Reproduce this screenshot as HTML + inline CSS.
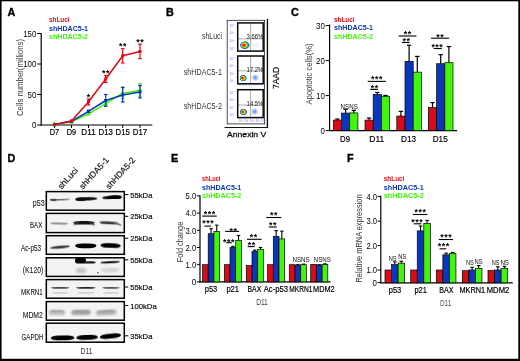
<!DOCTYPE html>
<html><head><meta charset="utf-8"><title>Figure</title>
<style>
html,body{margin:0;padding:0;background:#fff;}
body{width:520px;height:361px;overflow:hidden;font-family:"Liberation Sans",sans-serif;}
svg{display:block;will-change:transform;}
text{font-family:"Liberation Sans",sans-serif;}
</style></head><body>
<svg width="520" height="361" viewBox="0 0 520 361">
<rect x="0" y="0" width="520" height="361" fill="#fff"/>
<text x="7.5" y="15.5" font-size="10.8" fill="#000" text-anchor="start" font-weight="bold" stroke="#000" stroke-width="0.35">A</text>
<text x="166" y="15.5" font-size="10.8" fill="#000" text-anchor="start" font-weight="bold" stroke="#000" stroke-width="0.35">B</text>
<text x="291" y="15.8" font-size="10.8" fill="#000" text-anchor="start" font-weight="bold" stroke="#000" stroke-width="0.35">C</text>
<text x="7.5" y="162" font-size="10.8" fill="#000" text-anchor="start" font-weight="bold" stroke="#000" stroke-width="0.35">D</text>
<text x="171" y="162" font-size="10.8" fill="#000" text-anchor="start" font-weight="bold" stroke="#000" stroke-width="0.35">E</text>
<text x="347" y="162" font-size="10.8" fill="#000" text-anchor="start" font-weight="bold" stroke="#000" stroke-width="0.35">F</text>
<text x="49" y="22" font-size="7.9" fill="#dc0a16" text-anchor="start" font-weight="bold" textLength="20.6" lengthAdjust="spacingAndGlyphs" >shLuci</text>
<text x="49" y="30.5" font-size="7.9" fill="#0a36bc" text-anchor="start" font-weight="bold" textLength="39" lengthAdjust="spacingAndGlyphs" >shHDAC5-1</text>
<text x="49" y="39.3" font-size="7.9" fill="#44f40a" text-anchor="start" font-weight="bold" textLength="39" lengthAdjust="spacingAndGlyphs" >shHDAC5-2</text>
<line x1="41.2" y1="33" x2="41.2" y2="125.5" stroke="#000" stroke-width="1.2" />
<line x1="40.6" y1="125" x2="152.3" y2="125" stroke="#000" stroke-width="1.2" />
<line x1="37.2" y1="33.5" x2="41.2" y2="33.5" stroke="#000" stroke-width="1" />
<text x="36.400000000000006" y="36.7" font-size="9.2" fill="#000" text-anchor="end" font-weight="normal" textLength="13.2" lengthAdjust="spacingAndGlyphs" >150</text>
<line x1="37.2" y1="64" x2="41.2" y2="64" stroke="#000" stroke-width="1" />
<text x="36.400000000000006" y="67.2" font-size="9.2" fill="#000" text-anchor="end" font-weight="normal" textLength="13.2" lengthAdjust="spacingAndGlyphs" >100</text>
<line x1="37.2" y1="94.5" x2="41.2" y2="94.5" stroke="#000" stroke-width="1" />
<text x="36.400000000000006" y="97.7" font-size="9.2" fill="#000" text-anchor="end" font-weight="normal" textLength="8.8" lengthAdjust="spacingAndGlyphs" >50</text>
<line x1="37.2" y1="125" x2="41.2" y2="125" stroke="#000" stroke-width="1" />
<text x="36.400000000000006" y="128.2" font-size="9.2" fill="#000" text-anchor="end" font-weight="normal" textLength="4.4" lengthAdjust="spacingAndGlyphs" >0</text>
<line x1="54.5" y1="125" x2="54.5" y2="128" stroke="#000" stroke-width="1" />
<text x="54.5" y="135.4" font-size="9" fill="#000" text-anchor="middle" font-weight="normal" textLength="9.4" lengthAdjust="spacingAndGlyphs" stroke="#000" stroke-width="0.18">D7</text>
<line x1="71.5" y1="125" x2="71.5" y2="128" stroke="#000" stroke-width="1" />
<text x="71.5" y="135.4" font-size="9" fill="#000" text-anchor="middle" font-weight="normal" textLength="9.4" lengthAdjust="spacingAndGlyphs" stroke="#000" stroke-width="0.18">D9</text>
<line x1="88.5" y1="125" x2="88.5" y2="128" stroke="#000" stroke-width="1" />
<text x="88.5" y="135.4" font-size="9" fill="#000" text-anchor="middle" font-weight="normal" textLength="14.3" lengthAdjust="spacingAndGlyphs" stroke="#000" stroke-width="0.18">D11</text>
<line x1="105.7" y1="125" x2="105.7" y2="128" stroke="#000" stroke-width="1" />
<text x="105.7" y="135.4" font-size="9" fill="#000" text-anchor="middle" font-weight="normal" textLength="14.3" lengthAdjust="spacingAndGlyphs" stroke="#000" stroke-width="0.18">D13</text>
<line x1="122.7" y1="125" x2="122.7" y2="128" stroke="#000" stroke-width="1" />
<text x="122.7" y="135.4" font-size="9" fill="#000" text-anchor="middle" font-weight="normal" textLength="14.3" lengthAdjust="spacingAndGlyphs" stroke="#000" stroke-width="0.18">D15</text>
<line x1="140" y1="125" x2="140" y2="128" stroke="#000" stroke-width="1" />
<text x="140" y="135.4" font-size="9" fill="#000" text-anchor="middle" font-weight="normal" textLength="14.3" lengthAdjust="spacingAndGlyphs" stroke="#000" stroke-width="0.18">D17</text>
<text x="22.5" y="77.5" font-size="8.6" fill="#3a3a3a" text-anchor="middle" font-weight="normal" textLength="77" lengthAdjust="spacingAndGlyphs" transform="rotate(-90 22.5 77.5)" >Cells number(millions)</text>
<polyline points="54.5,124.6 71.5,121.8 88.5,113.8 105.7,103.7 122.7,93.2 140,90.5" fill="none" stroke="#44f40a" stroke-width="1.5" stroke-linejoin="round"/>
<line x1="54.5" y1="123" x2="54.5" y2="126" stroke="#44f40a" stroke-width="1.2" />
<line x1="52.7" y1="123" x2="56.3" y2="123" stroke="#44f40a" stroke-width="1.2" />
<line x1="52.7" y1="126" x2="56.3" y2="126" stroke="#44f40a" stroke-width="1.2" />
<rect x="53.00" y="123.10" width="3" height="3" fill="#44f40a"/>
<line x1="71.5" y1="120.6" x2="71.5" y2="123" stroke="#44f40a" stroke-width="1.2" />
<line x1="69.7" y1="120.6" x2="73.3" y2="120.6" stroke="#44f40a" stroke-width="1.2" />
<line x1="69.7" y1="123" x2="73.3" y2="123" stroke="#44f40a" stroke-width="1.2" />
<rect x="70.00" y="120.30" width="3" height="3" fill="#44f40a"/>
<line x1="88.5" y1="112.8" x2="88.5" y2="114.8" stroke="#44f40a" stroke-width="1.2" />
<line x1="86.7" y1="112.8" x2="90.3" y2="112.8" stroke="#44f40a" stroke-width="1.2" />
<line x1="86.7" y1="114.8" x2="90.3" y2="114.8" stroke="#44f40a" stroke-width="1.2" />
<rect x="87.00" y="112.30" width="3" height="3" fill="#44f40a"/>
<line x1="105.7" y1="100" x2="105.7" y2="106" stroke="#44f40a" stroke-width="1.2" />
<line x1="103.9" y1="100" x2="107.5" y2="100" stroke="#44f40a" stroke-width="1.2" />
<line x1="103.9" y1="106" x2="107.5" y2="106" stroke="#44f40a" stroke-width="1.2" />
<rect x="104.20" y="102.20" width="3" height="3" fill="#44f40a"/>
<line x1="122.7" y1="87" x2="122.7" y2="98.7" stroke="#44f40a" stroke-width="1.2" />
<line x1="120.9" y1="87" x2="124.5" y2="87" stroke="#44f40a" stroke-width="1.2" />
<line x1="120.9" y1="98.7" x2="124.5" y2="98.7" stroke="#44f40a" stroke-width="1.2" />
<rect x="121.20" y="91.70" width="3" height="3" fill="#44f40a"/>
<line x1="140" y1="83.7" x2="140" y2="96.3" stroke="#44f40a" stroke-width="1.2" />
<line x1="138.2" y1="83.7" x2="141.8" y2="83.7" stroke="#44f40a" stroke-width="1.2" />
<line x1="138.2" y1="96.3" x2="141.8" y2="96.3" stroke="#44f40a" stroke-width="1.2" />
<rect x="138.50" y="89.00" width="3" height="3" fill="#44f40a"/>
<polyline points="54.5,124.6 71.5,121.3 88.5,111.3 105.7,100.5 122.7,95 140,92" fill="none" stroke="#0a36bc" stroke-width="1.5" stroke-linejoin="round"/>
<rect x="53.00" y="123.10" width="3" height="3" fill="#0a36bc"/>
<line x1="71.5" y1="120.3" x2="71.5" y2="122.3" stroke="#0a36bc" stroke-width="1.2" />
<line x1="69.7" y1="120.3" x2="73.3" y2="120.3" stroke="#0a36bc" stroke-width="1.2" />
<line x1="69.7" y1="122.3" x2="73.3" y2="122.3" stroke="#0a36bc" stroke-width="1.2" />
<rect x="70.00" y="119.80" width="3" height="3" fill="#0a36bc"/>
<line x1="88.5" y1="110.3" x2="88.5" y2="112.3" stroke="#0a36bc" stroke-width="1.2" />
<line x1="86.7" y1="110.3" x2="90.3" y2="110.3" stroke="#0a36bc" stroke-width="1.2" />
<line x1="86.7" y1="112.3" x2="90.3" y2="112.3" stroke="#0a36bc" stroke-width="1.2" />
<rect x="87.00" y="109.80" width="3" height="3" fill="#0a36bc"/>
<line x1="105.7" y1="94.5" x2="105.7" y2="106.2" stroke="#0a36bc" stroke-width="1.2" />
<line x1="103.9" y1="94.5" x2="107.5" y2="94.5" stroke="#0a36bc" stroke-width="1.2" />
<line x1="103.9" y1="106.2" x2="107.5" y2="106.2" stroke="#0a36bc" stroke-width="1.2" />
<rect x="104.20" y="99.00" width="3" height="3" fill="#0a36bc"/>
<line x1="122.7" y1="87.5" x2="122.7" y2="102" stroke="#0a36bc" stroke-width="1.2" />
<line x1="120.9" y1="87.5" x2="124.5" y2="87.5" stroke="#0a36bc" stroke-width="1.2" />
<line x1="120.9" y1="102" x2="124.5" y2="102" stroke="#0a36bc" stroke-width="1.2" />
<rect x="121.20" y="93.50" width="3" height="3" fill="#0a36bc"/>
<line x1="140" y1="85.5" x2="140" y2="98" stroke="#0a36bc" stroke-width="1.2" />
<line x1="138.2" y1="85.5" x2="141.8" y2="85.5" stroke="#0a36bc" stroke-width="1.2" />
<line x1="138.2" y1="98" x2="141.8" y2="98" stroke="#0a36bc" stroke-width="1.2" />
<rect x="138.50" y="90.50" width="3" height="3" fill="#0a36bc"/>
<polyline points="54.5,124.6 71.5,121 88.5,101.7 105.7,79 122.7,55.7 140,51.5" fill="none" stroke="#dc0a16" stroke-width="1.5" stroke-linejoin="round"/>
<rect x="53.00" y="123.10" width="3" height="3" fill="#dc0a16"/>
<rect x="70.00" y="119.50" width="3" height="3" fill="#dc0a16"/>
<line x1="88.5" y1="99" x2="88.5" y2="105" stroke="#dc0a16" stroke-width="1.2" />
<line x1="86.7" y1="99" x2="90.3" y2="99" stroke="#dc0a16" stroke-width="1.2" />
<line x1="86.7" y1="105" x2="90.3" y2="105" stroke="#dc0a16" stroke-width="1.2" />
<rect x="87.00" y="100.20" width="3" height="3" fill="#dc0a16"/>
<line x1="105.7" y1="75.5" x2="105.7" y2="82.5" stroke="#dc0a16" stroke-width="1.2" />
<line x1="103.9" y1="75.5" x2="107.5" y2="75.5" stroke="#dc0a16" stroke-width="1.2" />
<line x1="103.9" y1="82.5" x2="107.5" y2="82.5" stroke="#dc0a16" stroke-width="1.2" />
<rect x="104.20" y="77.50" width="3" height="3" fill="#dc0a16"/>
<line x1="122.7" y1="48.7" x2="122.7" y2="63" stroke="#dc0a16" stroke-width="1.2" />
<line x1="120.9" y1="48.7" x2="124.5" y2="48.7" stroke="#dc0a16" stroke-width="1.2" />
<line x1="120.9" y1="63" x2="124.5" y2="63" stroke="#dc0a16" stroke-width="1.2" />
<rect x="121.20" y="54.20" width="3" height="3" fill="#dc0a16"/>
<line x1="140" y1="44.2" x2="140" y2="58.7" stroke="#dc0a16" stroke-width="1.2" />
<line x1="138.2" y1="44.2" x2="141.8" y2="44.2" stroke="#dc0a16" stroke-width="1.2" />
<line x1="138.2" y1="58.7" x2="141.8" y2="58.7" stroke="#dc0a16" stroke-width="1.2" />
<rect x="138.50" y="50.00" width="3" height="3" fill="#dc0a16"/>
<text x="88.75" y="99.93" font-size="8.8" fill="#000" text-anchor="middle" font-weight="bold" letter-spacing="0.55">*</text>
<text x="105.95" y="75.63" font-size="8.8" fill="#000" text-anchor="middle" font-weight="bold" letter-spacing="0.55">**</text>
<text x="122.95" y="49.43" font-size="8.8" fill="#000" text-anchor="middle" font-weight="bold" letter-spacing="0.55">**</text>
<text x="140.25" y="44.93" font-size="8.8" fill="#000" text-anchor="middle" font-weight="bold" letter-spacing="0.55">**</text>
<text x="222" y="39.2" font-size="8.6" fill="#333" text-anchor="end" font-weight="normal" textLength="20" lengthAdjust="spacingAndGlyphs" >shLuci</text>
<text x="222" y="74.7" font-size="8.6" fill="#333" text-anchor="end" font-weight="normal" textLength="38.3" lengthAdjust="spacingAndGlyphs" >shHDAC5-1</text>
<text x="222" y="108.5" font-size="8.6" fill="#333" text-anchor="end" font-weight="normal" textLength="38.3" lengthAdjust="spacingAndGlyphs" >shHDAC5-2</text>
<rect x="227.2" y="20.3" width="37.4" height="103.6" fill="none" stroke="#222" stroke-width="0.8"/>
<line x1="267.4" y1="19" x2="267.4" y2="128" stroke="#111" stroke-width="1.4" />
<line x1="224.5" y1="127.5" x2="268.1" y2="127.5" stroke="#111" stroke-width="1.2" />
<text x="227" y="137.3" font-size="8.1" fill="#111" text-anchor="start" font-weight="normal" textLength="39.3" lengthAdjust="spacingAndGlyphs" stroke="#111" stroke-width="0.32">Annexin V</text>
<text x="278.9" y="77.9" font-size="8.6" fill="#111" text-anchor="middle" font-weight="normal" textLength="22.4" lengthAdjust="spacingAndGlyphs" transform="rotate(-90 278.9 77.9)" stroke="#111" stroke-width="0.2">7AAD</text>
<defs>
<radialGradient id="blob" fx="0.33" fy="0.5"><stop offset="0" stop-color="#e81010"/><stop offset="0.3" stop-color="#f03a10"/><stop offset="0.48" stop-color="#f5e020"/><stop offset="0.66" stop-color="#35d040"/><stop offset="0.85" stop-color="#2a55e8"/><stop offset="1" stop-color="#2a55e8" stop-opacity="0"/></radialGradient>
<radialGradient id="lb"><stop offset="0" stop-color="#3d7be8" stop-opacity="0.9"/><stop offset="0.5" stop-color="#7da6f0" stop-opacity="0.6"/><stop offset="1" stop-color="#b5c8f8" stop-opacity="0"/></radialGradient>
<filter id="b03" x="-20%" y="-20%" width="140%" height="140%"><feGaussianBlur stdDeviation="0.35"/></filter>
<filter id="b05" x="-20%" y="-50%" width="140%" height="200%"><feGaussianBlur stdDeviation="0.45"/></filter>
<filter id="b06" x="-20%" y="-50%" width="140%" height="200%"><feGaussianBlur stdDeviation="0.6"/></filter>
<filter id="b10" x="-20%" y="-80%" width="140%" height="260%"><feGaussianBlur stdDeviation="1.0"/></filter>
<filter id="b15" x="-20%" y="-80%" width="140%" height="260%"><feGaussianBlur stdDeviation="1.5"/></filter>
</defs>
<rect x="237.7" y="22.9" width="25.5" height="28.200000000000003" fill="#fff"/>
<line x1="250.6" y1="22.9" x2="250.6" y2="51.1" stroke="#8a8a8a" stroke-width="0.7" />
<line x1="237.7" y1="38.8" x2="263.2" y2="38.8" stroke="#8a8a8a" stroke-width="0.7" />
<ellipse cx="256.5" cy="45.5" rx="4.4" ry="4.2" fill="url(#lb)" opacity="0.18" filter="url(#b03)"/>
<ellipse cx="244.9" cy="45.2" rx="5.0" ry="4.1" fill="url(#blob)" filter="url(#b03)"/>
<rect x="237.7" y="22.9" width="25.5" height="28.200000000000003" fill="none" stroke="#0a0a0a" stroke-width="1.5"/>
<text x="263.4" y="38.8" font-size="6.4" fill="#1a1a1a" text-anchor="end" font-weight="normal" textLength="16.8" lengthAdjust="spacingAndGlyphs" >3.66%</text>
<text x="229.6" y="26.7" font-size="3.1" fill="#5a5ae6" text-anchor="start" font-weight="normal" opacity="0.85">10</text>
<text x="232.9" y="25.3" font-size="2.4" fill="#5a5ae6" text-anchor="start" font-weight="normal" opacity="0.8">n</text>
<text x="229.6" y="34.4" font-size="3.1" fill="#5a5ae6" text-anchor="start" font-weight="normal" opacity="0.85">10</text>
<text x="232.9" y="33.0" font-size="2.4" fill="#5a5ae6" text-anchor="start" font-weight="normal" opacity="0.8">n</text>
<text x="229.6" y="42.0" font-size="3.1" fill="#5a5ae6" text-anchor="start" font-weight="normal" opacity="0.85">10</text>
<text x="232.9" y="40.6" font-size="2.4" fill="#5a5ae6" text-anchor="start" font-weight="normal" opacity="0.8">n</text>
<text x="229.6" y="49.7" font-size="3.1" fill="#5a5ae6" text-anchor="start" font-weight="normal" opacity="0.85">10</text>
<text x="232.9" y="48.3" font-size="2.4" fill="#5a5ae6" text-anchor="start" font-weight="normal" opacity="0.8">n</text>
<rect x="237.7" y="56.0" width="25.5" height="27.799999999999997" fill="#fff"/>
<line x1="250.6" y1="56.0" x2="250.6" y2="83.8" stroke="#8a8a8a" stroke-width="0.7" />
<line x1="237.7" y1="70.8" x2="263.2" y2="70.8" stroke="#8a8a8a" stroke-width="0.7" />
<ellipse cx="255.2" cy="77.6" rx="4.4" ry="4.2" fill="url(#lb)" opacity="1" filter="url(#b03)"/>
<ellipse cx="243.3" cy="78.1" rx="3.7" ry="3.5" fill="url(#blob)" filter="url(#b03)"/>
<rect x="237.7" y="56.0" width="25.5" height="27.799999999999997" fill="none" stroke="#0a0a0a" stroke-width="1.5"/>
<text x="263.4" y="72.39999999999999" font-size="6.4" fill="#1a1a1a" text-anchor="end" font-weight="normal" textLength="16.8" lengthAdjust="spacingAndGlyphs" >17.2%</text>
<text x="229.6" y="59.8" font-size="3.1" fill="#5a5ae6" text-anchor="start" font-weight="normal" opacity="0.85">10</text>
<text x="232.9" y="58.4" font-size="2.4" fill="#5a5ae6" text-anchor="start" font-weight="normal" opacity="0.8">n</text>
<text x="229.6" y="67.3" font-size="3.1" fill="#5a5ae6" text-anchor="start" font-weight="normal" opacity="0.85">10</text>
<text x="232.9" y="65.9" font-size="2.4" fill="#5a5ae6" text-anchor="start" font-weight="normal" opacity="0.8">n</text>
<text x="229.6" y="74.9" font-size="3.1" fill="#5a5ae6" text-anchor="start" font-weight="normal" opacity="0.85">10</text>
<text x="232.9" y="73.5" font-size="2.4" fill="#5a5ae6" text-anchor="start" font-weight="normal" opacity="0.8">n</text>
<text x="229.6" y="82.4" font-size="3.1" fill="#5a5ae6" text-anchor="start" font-weight="normal" opacity="0.85">10</text>
<text x="232.9" y="81.0" font-size="2.4" fill="#5a5ae6" text-anchor="start" font-weight="normal" opacity="0.8">n</text>
<rect x="237.7" y="89.7" width="25.5" height="27.89999999999999" fill="#fff"/>
<line x1="250.6" y1="89.7" x2="250.6" y2="117.6" stroke="#8a8a8a" stroke-width="0.7" />
<line x1="237.7" y1="105.1" x2="263.2" y2="105.1" stroke="#8a8a8a" stroke-width="0.7" />
<ellipse cx="254.6" cy="111.6" rx="4.4" ry="4.2" fill="url(#lb)" opacity="1" filter="url(#b03)"/>
<ellipse cx="243.5" cy="111.9" rx="3.7" ry="3.5" fill="url(#blob)" filter="url(#b03)"/>
<rect x="237.7" y="89.7" width="25.5" height="27.89999999999999" fill="none" stroke="#0a0a0a" stroke-width="1.5"/>
<text x="263.4" y="105.69999999999999" font-size="6.4" fill="#1a1a1a" text-anchor="end" font-weight="normal" textLength="16.8" lengthAdjust="spacingAndGlyphs" >14.5%</text>
<text x="229.6" y="93.5" font-size="3.1" fill="#5a5ae6" text-anchor="start" font-weight="normal" opacity="0.85">10</text>
<text x="232.9" y="92.1" font-size="2.4" fill="#5a5ae6" text-anchor="start" font-weight="normal" opacity="0.8">n</text>
<text x="229.6" y="101.1" font-size="3.1" fill="#5a5ae6" text-anchor="start" font-weight="normal" opacity="0.85">10</text>
<text x="232.9" y="99.7" font-size="2.4" fill="#5a5ae6" text-anchor="start" font-weight="normal" opacity="0.8">n</text>
<text x="229.6" y="108.6" font-size="3.1" fill="#5a5ae6" text-anchor="start" font-weight="normal" opacity="0.85">10</text>
<text x="232.9" y="107.2" font-size="2.4" fill="#5a5ae6" text-anchor="start" font-weight="normal" opacity="0.8">n</text>
<text x="229.6" y="116.2" font-size="3.1" fill="#5a5ae6" text-anchor="start" font-weight="normal" opacity="0.85">10</text>
<text x="232.9" y="114.8" font-size="2.4" fill="#5a5ae6" text-anchor="start" font-weight="normal" opacity="0.8">n</text>
<rect x="239.0" y="84.2" width="1.6" height="1.0" fill="#3a4ee0" opacity="0.8"/>
<rect x="242.0" y="84.2" width="1.6" height="1.0" fill="#3a4ee0" opacity="0.8"/>
<rect x="245.0" y="84.2" width="1.6" height="1.0" fill="#3a4ee0" opacity="0.8"/>
<rect x="248.0" y="84.2" width="1.6" height="1.0" fill="#3a4ee0" opacity="0.8"/>
<rect x="251.0" y="84.2" width="1.6" height="1.0" fill="#3a4ee0" opacity="0.8"/>
<rect x="254.0" y="84.2" width="1.6" height="1.0" fill="#3a4ee0" opacity="0.8"/>
<rect x="257.0" y="84.2" width="1.6" height="1.0" fill="#3a4ee0" opacity="0.8"/>
<rect x="260.0" y="84.2" width="1.6" height="1.0" fill="#3a4ee0" opacity="0.8"/>
<text x="238.6" y="122.3" font-size="3.1" fill="#5a5ae6" text-anchor="start" font-weight="normal" opacity="0.85">10</text>
<text x="241.9" y="121" font-size="2.4" fill="#5a5ae6" text-anchor="start" font-weight="normal" opacity="0.8">n</text>
<text x="244.2" y="122.3" font-size="3.1" fill="#5a5ae6" text-anchor="start" font-weight="normal" opacity="0.85">10</text>
<text x="247.5" y="121" font-size="2.4" fill="#5a5ae6" text-anchor="start" font-weight="normal" opacity="0.8">n</text>
<text x="249.8" y="122.3" font-size="3.1" fill="#5a5ae6" text-anchor="start" font-weight="normal" opacity="0.85">10</text>
<text x="253.1" y="121" font-size="2.4" fill="#5a5ae6" text-anchor="start" font-weight="normal" opacity="0.8">n</text>
<text x="255.4" y="122.3" font-size="3.1" fill="#5a5ae6" text-anchor="start" font-weight="normal" opacity="0.85">10</text>
<text x="258.7" y="121" font-size="2.4" fill="#5a5ae6" text-anchor="start" font-weight="normal" opacity="0.8">n</text>
<text x="261.0" y="122.3" font-size="3.1" fill="#5a5ae6" text-anchor="start" font-weight="normal" opacity="0.85">10</text>
<text x="264.3" y="121" font-size="2.4" fill="#5a5ae6" text-anchor="start" font-weight="normal" opacity="0.8">n</text>
<text x="334" y="21.8" font-size="7.9" fill="#dc0a16" text-anchor="start" font-weight="bold" textLength="20.6" lengthAdjust="spacingAndGlyphs" >shLuci</text>
<text x="334" y="30" font-size="7.9" fill="#0a36bc" text-anchor="start" font-weight="bold" textLength="39" lengthAdjust="spacingAndGlyphs" >shHDAC5-1</text>
<text x="334" y="38.8" font-size="7.9" fill="#44f40a" text-anchor="start" font-weight="bold" textLength="39" lengthAdjust="spacingAndGlyphs" >shHDAC5-2</text>
<line x1="329.6" y1="24.5" x2="329.6" y2="131.1" stroke="#000" stroke-width="1.2" />
<line x1="329.0" y1="130.6" x2="457" y2="130.6" stroke="#000" stroke-width="1.2" />
<line x1="325.6" y1="130.6" x2="329.6" y2="130.6" stroke="#000" stroke-width="1" />
<text x="324.8" y="133.79999999999998" font-size="9.2" fill="#000" text-anchor="end" font-weight="normal" textLength="4.4" lengthAdjust="spacingAndGlyphs" >0</text>
<line x1="325.6" y1="95.6" x2="329.6" y2="95.6" stroke="#000" stroke-width="1" />
<text x="324.8" y="98.8" font-size="9.2" fill="#000" text-anchor="end" font-weight="normal" textLength="8.8" lengthAdjust="spacingAndGlyphs" >10</text>
<line x1="325.6" y1="60.599999999999994" x2="329.6" y2="60.599999999999994" stroke="#000" stroke-width="1" />
<text x="324.8" y="63.8" font-size="9.2" fill="#000" text-anchor="end" font-weight="normal" textLength="8.8" lengthAdjust="spacingAndGlyphs" >20</text>
<line x1="325.6" y1="25.599999999999994" x2="329.6" y2="25.599999999999994" stroke="#000" stroke-width="1" />
<text x="324.8" y="28.799999999999994" font-size="9.2" fill="#000" text-anchor="end" font-weight="normal" textLength="8.8" lengthAdjust="spacingAndGlyphs" >30</text>
<text x="312" y="74" font-size="8.6" fill="#3a3a3a" text-anchor="middle" font-weight="normal" textLength="61" lengthAdjust="spacingAndGlyphs" transform="rotate(-90 312 74)" >Apoptotic cells(%)</text>
<line x1="337.40000000000003" y1="119.05" x2="337.40000000000003" y2="120.1" stroke="#000" stroke-width="1.2" />
<line x1="335.20000000000005" y1="119.05" x2="339.6" y2="119.05" stroke="#000" stroke-width="1.2" />
<rect x="333.3" y="120.1" width="8.2" height="10.5" fill="#dc0a16" stroke="#000" stroke-width="0.7"/>
<line x1="345.6" y1="109.25" x2="345.6" y2="113.1" stroke="#000" stroke-width="1.2" />
<line x1="343.40000000000003" y1="109.25" x2="347.8" y2="109.25" stroke="#000" stroke-width="1.2" />
<rect x="341.5" y="113.1" width="8.2" height="17.5" fill="#0a36bc" stroke="#000" stroke-width="0.7"/>
<line x1="353.8" y1="110.3" x2="353.8" y2="112.925" stroke="#000" stroke-width="1.2" />
<line x1="351.6" y1="110.3" x2="356.0" y2="110.3" stroke="#000" stroke-width="1.2" />
<rect x="349.7" y="112.925" width="8.2" height="17.674999999999997" fill="#44f40a" stroke="#000" stroke-width="0.7"/>
<text x="345.1" y="141.9" font-size="9" fill="#000" text-anchor="middle" font-weight="normal" textLength="10" lengthAdjust="spacingAndGlyphs" stroke="#000" stroke-width="0.18">D9</text>
<line x1="369.1" y1="118.0" x2="369.1" y2="120.1" stroke="#000" stroke-width="1.2" />
<line x1="366.90000000000003" y1="118.0" x2="371.3" y2="118.0" stroke="#000" stroke-width="1.2" />
<rect x="365.0" y="120.1" width="8.2" height="10.5" fill="#dc0a16" stroke="#000" stroke-width="0.7"/>
<line x1="377.3" y1="92.44999999999999" x2="377.3" y2="94.54999999999998" stroke="#000" stroke-width="1.2" />
<line x1="375.1" y1="92.44999999999999" x2="379.5" y2="92.44999999999999" stroke="#000" stroke-width="1.2" />
<rect x="373.2" y="94.54999999999998" width="8.2" height="36.05000000000001" fill="#0a36bc" stroke="#000" stroke-width="0.7"/>
<line x1="385.5" y1="95.42499999999998" x2="385.5" y2="96.29999999999998" stroke="#000" stroke-width="1.2" />
<line x1="383.3" y1="95.42499999999998" x2="387.7" y2="95.42499999999998" stroke="#000" stroke-width="1.2" />
<rect x="381.4" y="96.29999999999998" width="8.2" height="34.30000000000001" fill="#44f40a" stroke="#000" stroke-width="0.7"/>
<text x="376.8" y="141.9" font-size="9" fill="#000" text-anchor="middle" font-weight="normal" textLength="15" lengthAdjust="spacingAndGlyphs" stroke="#000" stroke-width="0.18">D11</text>
<line x1="400.90000000000003" y1="111.35" x2="400.90000000000003" y2="116.07499999999999" stroke="#000" stroke-width="1.2" />
<line x1="398.70000000000005" y1="111.35" x2="403.1" y2="111.35" stroke="#000" stroke-width="1.2" />
<rect x="396.8" y="116.07499999999999" width="8.2" height="14.525000000000006" fill="#dc0a16" stroke="#000" stroke-width="0.7"/>
<line x1="409.1" y1="45.2" x2="409.1" y2="61.3" stroke="#000" stroke-width="1.2" />
<line x1="406.90000000000003" y1="45.2" x2="411.3" y2="45.2" stroke="#000" stroke-width="1.2" />
<rect x="405.0" y="61.3" width="8.2" height="69.3" fill="#0a36bc" stroke="#000" stroke-width="0.7"/>
<line x1="417.3" y1="56.39999999999999" x2="417.3" y2="72.15" stroke="#000" stroke-width="1.2" />
<line x1="415.1" y1="56.39999999999999" x2="419.5" y2="56.39999999999999" stroke="#000" stroke-width="1.2" />
<rect x="413.2" y="72.15" width="8.2" height="58.44999999999999" fill="#44f40a" stroke="#000" stroke-width="0.7"/>
<text x="408.6" y="141.9" font-size="9" fill="#000" text-anchor="middle" font-weight="normal" textLength="15" lengthAdjust="spacingAndGlyphs" stroke="#000" stroke-width="0.18">D13</text>
<line x1="432.5" y1="102.6" x2="432.5" y2="107.5" stroke="#000" stroke-width="1.2" />
<line x1="430.3" y1="102.6" x2="434.7" y2="102.6" stroke="#000" stroke-width="1.2" />
<rect x="428.4" y="107.5" width="8.2" height="23.099999999999994" fill="#dc0a16" stroke="#000" stroke-width="0.7"/>
<line x1="440.7" y1="54.64999999999999" x2="440.7" y2="63.749999999999986" stroke="#000" stroke-width="1.2" />
<line x1="438.5" y1="54.64999999999999" x2="442.9" y2="54.64999999999999" stroke="#000" stroke-width="1.2" />
<rect x="436.59999999999997" y="63.749999999999986" width="8.2" height="66.85000000000001" fill="#0a36bc" stroke="#000" stroke-width="0.7"/>
<line x1="448.9" y1="46.599999999999994" x2="448.9" y2="62.7" stroke="#000" stroke-width="1.2" />
<line x1="446.7" y1="46.599999999999994" x2="451.09999999999997" y2="46.599999999999994" stroke="#000" stroke-width="1.2" />
<rect x="444.79999999999995" y="62.7" width="8.2" height="67.89999999999999" fill="#44f40a" stroke="#000" stroke-width="0.7"/>
<text x="440.2" y="141.9" font-size="9" fill="#000" text-anchor="middle" font-weight="normal" textLength="15" lengthAdjust="spacingAndGlyphs" stroke="#000" stroke-width="0.18">D15</text>
<text x="340.5" y="108.8" font-size="6.3" fill="#111" text-anchor="start" font-weight="normal" textLength="8.5" lengthAdjust="spacingAndGlyphs" >NS</text>
<text x="349.3" y="108.8" font-size="6.3" fill="#111" text-anchor="start" font-weight="normal" textLength="8.5" lengthAdjust="spacingAndGlyphs" >NS</text>
<line x1="367.7" y1="81.4" x2="385.8" y2="81.4" stroke="#000" stroke-width="1.1" />
<text x="376.95" y="82.23" font-size="8.8" fill="#000" text-anchor="middle" font-weight="bold" letter-spacing="0.55">***</text>
<line x1="370.2" y1="89.4" x2="377.9" y2="89.4" stroke="#000" stroke-width="1.1" />
<text x="374.65" y="91.23" font-size="8.8" fill="#000" text-anchor="middle" font-weight="bold" letter-spacing="0.55">**</text>
<line x1="398.6" y1="36.0" x2="416.4" y2="36.0" stroke="#000" stroke-width="1.1" />
<text x="407.65" y="36.83" font-size="8.8" fill="#000" text-anchor="middle" font-weight="bold" letter-spacing="0.55">**</text>
<line x1="402.1" y1="42.5" x2="409.5" y2="42.5" stroke="#000" stroke-width="1.1" />
<text x="406.45" y="44.23" font-size="8.8" fill="#000" text-anchor="middle" font-weight="bold" letter-spacing="0.55">**</text>
<line x1="431" y1="38.2" x2="449.2" y2="38.2" stroke="#000" stroke-width="1.1" />
<text x="440.35" y="39.53" font-size="8.8" fill="#000" text-anchor="middle" font-weight="bold" letter-spacing="0.55">**</text>
<line x1="433.7" y1="48.55" x2="441.8" y2="48.55" stroke="#000" stroke-width="1.1" />
<text x="437.35" y="49.93" font-size="8.8" fill="#000" text-anchor="middle" font-weight="bold" letter-spacing="0.55">***</text>
<text x="44.6" y="205.5" font-size="9" fill="#222" text-anchor="end" font-weight="normal" textLength="11.8" lengthAdjust="spacingAndGlyphs" stroke="#222" stroke-width="0.12">p53</text>
<text x="42.2" y="227.8" font-size="9" fill="#222" text-anchor="end" font-weight="normal" textLength="12.2" lengthAdjust="spacingAndGlyphs" stroke="#222" stroke-width="0.12">BAX</text>
<text x="41.2" y="250.5" font-size="9" fill="#222" text-anchor="end" font-weight="normal" textLength="20.3" lengthAdjust="spacingAndGlyphs" stroke="#222" stroke-width="0.12">Ac-p53</text>
<text x="43.4" y="273" font-size="9" fill="#222" text-anchor="end" font-weight="normal" textLength="20.7" lengthAdjust="spacingAndGlyphs" stroke="#222" stroke-width="0.12">(K120)</text>
<text x="42.8" y="295.4" font-size="9" fill="#222" text-anchor="end" font-weight="normal" textLength="21.7" lengthAdjust="spacingAndGlyphs" stroke="#222" stroke-width="0.12">MKRN1</text>
<text x="42.8" y="317.8" font-size="9" fill="#222" text-anchor="end" font-weight="normal" textLength="20" lengthAdjust="spacingAndGlyphs" stroke="#222" stroke-width="0.12">MDM2</text>
<text x="43.4" y="340.3" font-size="9" fill="#222" text-anchor="end" font-weight="normal" textLength="21.9" lengthAdjust="spacingAndGlyphs" stroke="#222" stroke-width="0.12">GAPDH</text>
<rect x="46.3" y="191.6" width="78.0" height="18.6" fill="#f3f3f3"/>
<rect x="46.3" y="213.4" width="78.0" height="19.2" fill="#f3f3f3"/>
<rect x="46.3" y="235.7" width="78.0" height="18.6" fill="#f3f3f3"/>
<rect x="46.3" y="257.8" width="78.0" height="18.6" fill="#f3f3f3"/>
<rect x="46.3" y="279.6" width="78.0" height="18.6" fill="#f3f3f3"/>
<rect x="46.3" y="301.6" width="78.0" height="18.6" fill="#f3f3f3"/>
<rect x="46.3" y="323.2" width="78.0" height="19.0" fill="#f3f3f3"/>
<rect x="49.8" y="199.0" width="20.40" height="1.60" rx="7.34" ry="0.80" fill="#6a6a6a" opacity="1" filter="url(#b05)" transform="rotate(-3 60.0 199.8)"/>
<rect x="49.8" y="198.8" width="7.20" height="2.10" rx="2.59" ry="1.05" fill="#333" opacity="0.8" filter="url(#b05)" transform="rotate(0 53.4 199.9)"/>
<rect x="75.3" y="197.3" width="22.00" height="3.20" rx="7.92" ry="1.60" fill="#0a0a0a" opacity="1" filter="url(#b06)" transform="rotate(-2 86.3 198.9)"/>
<rect x="75.5" y="197.4" width="10.50" height="3.50" rx="3.78" ry="1.75" fill="#0a0a0a" opacity="0.9" filter="url(#b06)" transform="rotate(0 80.8 199.2)"/>
<rect x="102.2" y="195.8" width="19.60" height="3.20" rx="7.06" ry="1.60" fill="#000" opacity="1" filter="url(#b06)" transform="rotate(-3 112.0 197.4)"/>
<rect x="109" y="195.3" width="12.60" height="3.70" rx="4.54" ry="1.85" fill="#000" opacity="0.9" filter="url(#b06)" transform="rotate(0 115.3 197.2)"/>
<rect x="50" y="222.6" width="18.20" height="1.80" rx="6.55" ry="0.90" fill="#909090" opacity="1" filter="url(#b05)" transform="rotate(2 59.1 223.5)"/>
<rect x="73.3" y="221.0" width="21.10" height="3.60" rx="7.60" ry="1.80" fill="#161616" opacity="1" filter="url(#b06)" transform="rotate(0 83.8 222.8)"/>
<rect x="73.3" y="222.6" width="5.70" height="2.40" rx="2.05" ry="1.20" fill="#444" opacity="0.7" filter="url(#b06)" transform="rotate(-18 76.2 223.8)"/>
<rect x="89.5" y="222.6" width="5.50" height="2.60" rx="1.98" ry="1.30" fill="#444" opacity="0.7" filter="url(#b06)" transform="rotate(18 92.2 223.9)"/>
<rect x="99.5" y="221.4" width="18.50" height="2.90" rx="6.66" ry="1.45" fill="#3a3a3a" opacity="1" filter="url(#b05)" transform="rotate(3 108.8 222.9)"/>
<rect x="114" y="223" width="7.80" height="2.00" rx="2.81" ry="1.00" fill="#777" opacity="0.9" filter="url(#b05)" transform="rotate(22 117.9 224.0)"/>
<rect x="50" y="245.8" width="20.20" height="2.60" rx="7.27" ry="1.30" fill="#3a3a3a" opacity="1" filter="url(#b06)" transform="rotate(-5 60.1 247.1)"/>
<rect x="75.2" y="243.4" width="21.20" height="4.90" rx="7.00" ry="2.45" fill="#000" opacity="1" filter="url(#b06)" transform="rotate(0 85.8 245.9)"/>
<rect x="100.3" y="243.3" width="20.50" height="4.50" rx="6.77" ry="2.25" fill="#000" opacity="1" filter="url(#b06)" transform="rotate(2 110.5 245.6)"/>
<rect x="75" y="257.8" width="11.00" height="5.80" rx="3.30" ry="2.90" fill="#050505" opacity="1" filter="url(#b05)" transform="rotate(0 80.5 260.7)"/>
<rect x="83" y="261.3" width="12.60" height="2.30" rx="4.54" ry="1.15" fill="#1a1a1a" opacity="1" filter="url(#b05)" transform="rotate(0 89.3 262.5)"/>
<rect x="100.5" y="261.2" width="19.30" height="2.00" rx="6.95" ry="1.00" fill="#111" opacity="1" filter="url(#b05)" transform="rotate(-3 110.2 262.2)"/>
<rect x="76" y="268" width="10.50" height="5.20" rx="3.78" ry="2.60" fill="#bdbdbd" opacity="0.9" filter="url(#b10)" transform="rotate(0 81.2 270.6)"/>
<rect x="101" y="268" width="18.70" height="4.20" rx="6.73" ry="2.10" fill="#cfcfcf" opacity="0.9" filter="url(#b10)" transform="rotate(0 110.3 270.1)"/>
<circle cx="97.9" cy="272.8" r="0.7" fill="#222"/>
<rect x="50.8" y="286.9" width="18.60" height="1.80" rx="6.70" ry="0.90" fill="#4a4a4a" opacity="1" filter="url(#b05)" transform="rotate(0 60.1 287.8)"/>
<rect x="51.8" y="292" width="16.60" height="1.80" rx="5.98" ry="0.90" fill="#cccccc" opacity="0.9" filter="url(#b06)" transform="rotate(0 60.1 292.9)"/>
<rect x="76" y="286.9" width="19.60" height="1.80" rx="7.06" ry="0.90" fill="#262626" opacity="1" filter="url(#b05)" transform="rotate(0 85.8 287.8)"/>
<rect x="77" y="292" width="17.60" height="1.80" rx="6.34" ry="0.90" fill="#cccccc" opacity="0.9" filter="url(#b06)" transform="rotate(0 85.8 292.9)"/>
<rect x="102.2" y="286.9" width="17.60" height="1.80" rx="6.34" ry="0.90" fill="#555" opacity="1" filter="url(#b05)" transform="rotate(0 111.0 287.8)"/>
<rect x="103.2" y="292" width="15.60" height="1.80" rx="5.62" ry="0.90" fill="#cccccc" opacity="0.9" filter="url(#b06)" transform="rotate(0 111.0 292.9)"/>
<rect x="48.8" y="310" width="16.70" height="5.00" rx="3.34" ry="2.50" fill="#b9b9b9" opacity="1" filter="url(#b10)" transform="rotate(1 57.1 312.5)"/>
<rect x="49.8" y="310.2" width="14.70" height="1.60" rx="4.41" ry="0.80" fill="#8c8c8c" opacity="0.55" filter="url(#b06)" transform="rotate(1 57.1 311.0)"/>
<rect x="71.2" y="310" width="19.60" height="5.00" rx="3.92" ry="2.50" fill="#a2a2a2" opacity="1" filter="url(#b10)" transform="rotate(-1 81.0 312.5)"/>
<rect x="72.2" y="310.2" width="17.60" height="1.60" rx="5.28" ry="0.80" fill="#8c8c8c" opacity="0.55" filter="url(#b06)" transform="rotate(-1 81.0 311.0)"/>
<rect x="96" y="310" width="20.80" height="5.00" rx="4.16" ry="2.50" fill="#adadad" opacity="1" filter="url(#b10)" transform="rotate(-3 106.4 312.5)"/>
<rect x="97" y="310.2" width="18.80" height="1.60" rx="5.64" ry="0.80" fill="#8c8c8c" opacity="0.55" filter="url(#b06)" transform="rotate(-3 106.4 311.0)"/>
<rect x="50.8" y="335.6" width="23.60" height="4.60" rx="7.08" ry="2.30" fill="#000" opacity="1" filter="url(#b05)" transform="rotate(-1 62.6 337.9)"/>
<rect x="76.4" y="335.0" width="21.40" height="4.80" rx="6.42" ry="2.40" fill="#000" opacity="1" filter="url(#b05)" transform="rotate(-2 87.1 337.4)"/>
<rect x="99.8" y="333.8" width="21.20" height="4.60" rx="6.36" ry="2.30" fill="#000" opacity="1" filter="url(#b05)" transform="rotate(-6 110.4 336.1)"/>
<rect x="46.3" y="191.6" width="78.0" height="18.6" fill="none" stroke="#000" stroke-width="1.5"/>
<rect x="46.3" y="213.4" width="78.0" height="19.2" fill="none" stroke="#000" stroke-width="1.5"/>
<rect x="46.3" y="235.7" width="78.0" height="18.6" fill="none" stroke="#000" stroke-width="1.5"/>
<rect x="46.3" y="257.8" width="78.0" height="18.6" fill="none" stroke="#000" stroke-width="1.5"/>
<rect x="46.3" y="279.6" width="78.0" height="18.6" fill="none" stroke="#000" stroke-width="1.5"/>
<rect x="46.3" y="301.6" width="78.0" height="18.6" fill="none" stroke="#000" stroke-width="1.5"/>
<rect x="46.3" y="323.2" width="78.0" height="19.0" fill="none" stroke="#000" stroke-width="1.5"/>
<line x1="124.3" y1="194.6" x2="128.3" y2="194.6" stroke="#000" stroke-width="1" />
<text x="130.2" y="197.5" font-size="7.9" fill="#111" text-anchor="start" font-weight="normal" textLength="22.3" lengthAdjust="spacingAndGlyphs" stroke="#111" stroke-width="0.2">55kDa</text>
<line x1="124.3" y1="216.3" x2="128.3" y2="216.3" stroke="#000" stroke-width="1" />
<text x="130.2" y="219.20000000000002" font-size="7.9" fill="#111" text-anchor="start" font-weight="normal" textLength="22.3" lengthAdjust="spacingAndGlyphs" stroke="#111" stroke-width="0.2">25kDa</text>
<line x1="124.3" y1="238.3" x2="128.3" y2="238.3" stroke="#000" stroke-width="1" />
<text x="130.2" y="241.20000000000002" font-size="7.9" fill="#111" text-anchor="start" font-weight="normal" textLength="22.3" lengthAdjust="spacingAndGlyphs" stroke="#111" stroke-width="0.2">25kDa</text>
<line x1="124.3" y1="259.8" x2="128.3" y2="259.8" stroke="#000" stroke-width="1" />
<text x="130.2" y="262.7" font-size="7.9" fill="#111" text-anchor="start" font-weight="normal" textLength="22.3" lengthAdjust="spacingAndGlyphs" stroke="#111" stroke-width="0.2">55kDa</text>
<line x1="124.3" y1="287" x2="128.3" y2="287" stroke="#000" stroke-width="1" />
<text x="130.2" y="289.9" font-size="7.9" fill="#111" text-anchor="start" font-weight="normal" textLength="22.3" lengthAdjust="spacingAndGlyphs" stroke="#111" stroke-width="0.2">55kDa</text>
<line x1="124.3" y1="305.6" x2="128.3" y2="305.6" stroke="#000" stroke-width="1" />
<text x="130.2" y="308.5" font-size="7.9" fill="#111" text-anchor="start" font-weight="normal" textLength="26.5" lengthAdjust="spacingAndGlyphs" stroke="#111" stroke-width="0.2">100kDa</text>
<line x1="124.3" y1="335.8" x2="128.3" y2="335.8" stroke="#000" stroke-width="1" />
<text x="130.2" y="338.7" font-size="7.9" fill="#111" text-anchor="start" font-weight="normal" textLength="22.3" lengthAdjust="spacingAndGlyphs" stroke="#111" stroke-width="0.2">35kDa</text>
<text x="61.4" y="189.8" font-size="8.4" fill="#111" text-anchor="start" font-weight="normal" textLength="25.5" lengthAdjust="spacingAndGlyphs" transform="rotate(-48 61.4 189.8)" stroke="#111" stroke-width="0.2">shLuci</text>
<text x="82.9" y="189.8" font-size="8.4" fill="#111" text-anchor="start" font-weight="normal" textLength="39.5" lengthAdjust="spacingAndGlyphs" transform="rotate(-48 82.9 189.8)" stroke="#111" stroke-width="0.2">shHDA5-1</text>
<text x="109.3" y="189.8" font-size="8.4" fill="#111" text-anchor="start" font-weight="normal" textLength="39.5" lengthAdjust="spacingAndGlyphs" transform="rotate(-48 109.3 189.8)" stroke="#111" stroke-width="0.2">shHDA5-2</text>
<text x="86.5" y="353.8" font-size="8.8" fill="#333" text-anchor="middle" font-weight="normal" textLength="11.8" lengthAdjust="spacingAndGlyphs" >D11</text>
<text x="202" y="180.8" font-size="7.7" fill="#dc0a16" text-anchor="start" font-weight="bold" textLength="18.4" lengthAdjust="spacingAndGlyphs" >shLuci</text>
<text x="202" y="189.8" font-size="7.7" fill="#0a36bc" text-anchor="start" font-weight="bold" textLength="39.2" lengthAdjust="spacingAndGlyphs" >shHDAC5-1</text>
<text x="202" y="198" font-size="7.7" fill="#44f40a" text-anchor="start" font-weight="bold" textLength="39.2" lengthAdjust="spacingAndGlyphs" >shHDAC5-2</text>
<line x1="200" y1="195.3" x2="200" y2="282.4" stroke="#000" stroke-width="1.2" />
<line x1="199.4" y1="281.9" x2="330.5" y2="281.9" stroke="#000" stroke-width="1.2" />
<line x1="196.8" y1="281.9" x2="200" y2="281.9" stroke="#000" stroke-width="1" />
<text x="196.2" y="285.09999999999997" font-size="9.2" fill="#000" text-anchor="end" font-weight="normal" textLength="4.4" lengthAdjust="spacingAndGlyphs" >0</text>
<line x1="196.8" y1="264.7" x2="200" y2="264.7" stroke="#000" stroke-width="1" />
<text x="196.2" y="267.9" font-size="9.2" fill="#000" text-anchor="end" font-weight="normal" textLength="10.6" lengthAdjust="spacingAndGlyphs" >1.0</text>
<line x1="196.8" y1="247.49999999999997" x2="200" y2="247.49999999999997" stroke="#000" stroke-width="1" />
<text x="196.2" y="250.69999999999996" font-size="9.2" fill="#000" text-anchor="end" font-weight="normal" textLength="10.6" lengthAdjust="spacingAndGlyphs" >2.0</text>
<line x1="196.8" y1="230.29999999999998" x2="200" y2="230.29999999999998" stroke="#000" stroke-width="1" />
<text x="196.2" y="233.49999999999997" font-size="9.2" fill="#000" text-anchor="end" font-weight="normal" textLength="10.6" lengthAdjust="spacingAndGlyphs" >3.0</text>
<line x1="196.8" y1="213.09999999999997" x2="200" y2="213.09999999999997" stroke="#000" stroke-width="1" />
<text x="196.2" y="216.29999999999995" font-size="9.2" fill="#000" text-anchor="end" font-weight="normal" textLength="10.6" lengthAdjust="spacingAndGlyphs" >4.0</text>
<line x1="196.8" y1="195.89999999999998" x2="200" y2="195.89999999999998" stroke="#000" stroke-width="1" />
<text x="196.2" y="199.09999999999997" font-size="9.2" fill="#000" text-anchor="end" font-weight="normal" textLength="10.6" lengthAdjust="spacingAndGlyphs" >5.0</text>
<text x="183" y="242" font-size="8.6" fill="#333" text-anchor="middle" font-weight="normal" textLength="40.5" lengthAdjust="spacingAndGlyphs" transform="rotate(-90 183 242)" >Fold change</text>
<rect x="202.5" y="264.7" width="5.7" height="17.19999999999999" fill="#dc0a16" stroke="#000" stroke-width="0.7"/>
<line x1="211.04999999999998" y1="228.75199999999998" x2="211.04999999999998" y2="233.73999999999998" stroke="#000" stroke-width="1.1" />
<line x1="209.35" y1="228.75199999999998" x2="212.74999999999997" y2="228.75199999999998" stroke="#000" stroke-width="1.1" />
<rect x="208.2" y="233.73999999999998" width="5.7" height="48.16" fill="#0a36bc" stroke="#000" stroke-width="0.7"/>
<line x1="216.75" y1="225.14" x2="216.75" y2="231.50399999999996" stroke="#000" stroke-width="1.1" />
<line x1="215.05" y1="225.14" x2="218.45" y2="225.14" stroke="#000" stroke-width="1.1" />
<rect x="213.9" y="231.50399999999996" width="5.7" height="50.396000000000015" fill="#44f40a" stroke="#000" stroke-width="0.7"/>
<text x="211" y="291.9" font-size="8.2" fill="#000" text-anchor="middle" font-weight="normal" textLength="12.5" lengthAdjust="spacingAndGlyphs" stroke="#000" stroke-width="0.18">p53</text>
<rect x="224.3" y="264.7" width="5.7" height="17.19999999999999" fill="#dc0a16" stroke="#000" stroke-width="0.7"/>
<line x1="232.85" y1="246.296" x2="232.85" y2="247.49999999999997" stroke="#000" stroke-width="1.1" />
<line x1="231.15" y1="246.296" x2="234.54999999999998" y2="246.296" stroke="#000" stroke-width="1.1" />
<rect x="230.0" y="247.49999999999997" width="5.7" height="34.400000000000006" fill="#0a36bc" stroke="#000" stroke-width="0.7"/>
<line x1="238.55" y1="235.45999999999998" x2="238.55" y2="240.61999999999998" stroke="#000" stroke-width="1.1" />
<line x1="236.85000000000002" y1="235.45999999999998" x2="240.25" y2="235.45999999999998" stroke="#000" stroke-width="1.1" />
<rect x="235.70000000000002" y="240.61999999999998" width="5.7" height="41.28" fill="#44f40a" stroke="#000" stroke-width="0.7"/>
<text x="232.7" y="291.9" font-size="8.2" fill="#000" text-anchor="middle" font-weight="normal" textLength="12.5" lengthAdjust="spacingAndGlyphs" stroke="#000" stroke-width="0.18">p21</text>
<rect x="246.3" y="265.56" width="5.7" height="16.339999999999975" fill="#dc0a16" stroke="#000" stroke-width="0.7"/>
<line x1="254.85" y1="250.07999999999998" x2="254.85" y2="251.284" stroke="#000" stroke-width="1.1" />
<line x1="253.15" y1="250.07999999999998" x2="256.55" y2="250.07999999999998" stroke="#000" stroke-width="1.1" />
<rect x="252.0" y="251.284" width="5.7" height="30.615999999999985" fill="#0a36bc" stroke="#000" stroke-width="0.7"/>
<line x1="260.55" y1="247.49999999999997" x2="260.55" y2="249.56399999999996" stroke="#000" stroke-width="1.1" />
<line x1="258.85" y1="247.49999999999997" x2="262.25" y2="247.49999999999997" stroke="#000" stroke-width="1.1" />
<rect x="257.7" y="249.56399999999996" width="5.7" height="32.33600000000001" fill="#44f40a" stroke="#000" stroke-width="0.7"/>
<text x="254.4" y="291.9" font-size="8.2" fill="#000" text-anchor="middle" font-weight="normal" textLength="13.7" lengthAdjust="spacingAndGlyphs" stroke="#000" stroke-width="0.18">BAX</text>
<rect x="267.6" y="264.7" width="5.7" height="17.19999999999999" fill="#dc0a16" stroke="#000" stroke-width="0.7"/>
<line x1="276.15000000000003" y1="230.64399999999998" x2="276.15000000000003" y2="236.32" stroke="#000" stroke-width="1.1" />
<line x1="274.45000000000005" y1="230.64399999999998" x2="277.85" y2="230.64399999999998" stroke="#000" stroke-width="1.1" />
<rect x="273.3" y="236.32" width="5.7" height="45.579999999999984" fill="#0a36bc" stroke="#000" stroke-width="0.7"/>
<line x1="281.85" y1="231.15999999999997" x2="281.85" y2="238.89999999999998" stroke="#000" stroke-width="1.1" />
<line x1="280.15000000000003" y1="231.15999999999997" x2="283.55" y2="231.15999999999997" stroke="#000" stroke-width="1.1" />
<rect x="279.0" y="238.89999999999998" width="5.7" height="43.0" fill="#44f40a" stroke="#000" stroke-width="0.7"/>
<text x="275.9" y="291.9" font-size="8.2" fill="#000" text-anchor="middle" font-weight="normal" textLength="24.3" lengthAdjust="spacingAndGlyphs" stroke="#000" stroke-width="0.18">Ac-p53</text>
<rect x="289.3" y="264.7" width="5.7" height="17.19999999999999" fill="#dc0a16" stroke="#000" stroke-width="0.7"/>
<line x1="297.85" y1="264.7" x2="297.85" y2="265.044" stroke="#000" stroke-width="1.1" />
<line x1="296.15000000000003" y1="264.7" x2="299.55" y2="264.7" stroke="#000" stroke-width="1.1" />
<rect x="295.0" y="265.044" width="5.7" height="16.855999999999995" fill="#0a36bc" stroke="#000" stroke-width="0.7"/>
<line x1="303.55" y1="264.18399999999997" x2="303.55" y2="264.7" stroke="#000" stroke-width="1.1" />
<line x1="301.85" y1="264.18399999999997" x2="305.25" y2="264.18399999999997" stroke="#000" stroke-width="1.1" />
<rect x="300.7" y="264.7" width="5.7" height="17.19999999999999" fill="#44f40a" stroke="#000" stroke-width="0.7"/>
<text x="300.9" y="291.9" font-size="8.2" fill="#000" text-anchor="middle" font-weight="normal" textLength="23.2" lengthAdjust="spacingAndGlyphs" stroke="#000" stroke-width="0.18">MKRN1</text>
<rect x="310.7" y="264.356" width="5.7" height="17.543999999999983" fill="#dc0a16" stroke="#000" stroke-width="0.7"/>
<line x1="319.25" y1="264.7" x2="319.25" y2="265.044" stroke="#000" stroke-width="1.1" />
<line x1="317.55" y1="264.7" x2="320.95" y2="264.7" stroke="#000" stroke-width="1.1" />
<rect x="316.4" y="265.044" width="5.7" height="16.855999999999995" fill="#0a36bc" stroke="#000" stroke-width="0.7"/>
<line x1="324.95" y1="263.84" x2="324.95" y2="264.356" stroke="#000" stroke-width="1.1" />
<line x1="323.25" y1="263.84" x2="326.65" y2="263.84" stroke="#000" stroke-width="1.1" />
<rect x="322.09999999999997" y="264.356" width="5.7" height="17.543999999999983" fill="#44f40a" stroke="#000" stroke-width="0.7"/>
<text x="323.8" y="291.9" font-size="8.2" fill="#000" text-anchor="middle" font-weight="normal" textLength="21.5" lengthAdjust="spacingAndGlyphs" stroke="#000" stroke-width="0.18">MDM2</text>
<line x1="202.2" y1="216.1" x2="216.8" y2="216.1" stroke="#000" stroke-width="1.1" />
<text x="209.65" y="217.23" font-size="8.8" fill="#000" text-anchor="middle" font-weight="bold" letter-spacing="0.55">***</text>
<line x1="204.4" y1="226.1" x2="211" y2="226.1" stroke="#000" stroke-width="1.1" />
<text x="208.25" y="226.23" font-size="8.8" fill="#000" text-anchor="middle" font-weight="bold" letter-spacing="0.55">***</text>
<line x1="225.2" y1="231.4" x2="239.1" y2="231.4" stroke="#000" stroke-width="1.1" />
<text x="233.55" y="233.53" font-size="8.8" fill="#000" text-anchor="middle" font-weight="bold" letter-spacing="0.55">**</text>
<line x1="226.2" y1="242.7" x2="231.8" y2="242.7" stroke="#000" stroke-width="1.1" />
<text x="229.05" y="245.03" font-size="8.8" fill="#000" text-anchor="middle" font-weight="bold" letter-spacing="0.55">***</text>
<line x1="247" y1="239.3" x2="261.6" y2="239.3" stroke="#000" stroke-width="1.1" />
<text x="253.75" y="240.13" font-size="8.8" fill="#000" text-anchor="middle" font-weight="bold" letter-spacing="0.55">**</text>
<line x1="247.7" y1="246.6" x2="254.6" y2="246.6" stroke="#000" stroke-width="1.1" />
<text x="251.85" y="248.43" font-size="8.8" fill="#000" text-anchor="middle" font-weight="bold" letter-spacing="0.55">**</text>
<line x1="266.3" y1="217.5" x2="281.3" y2="217.5" stroke="#000" stroke-width="1.1" />
<text x="274.05" y="218.33" font-size="8.8" fill="#000" text-anchor="middle" font-weight="bold" letter-spacing="0.55">**</text>
<line x1="268.8" y1="227" x2="276.8" y2="227" stroke="#000" stroke-width="1.1" />
<text x="273.05" y="228.03" font-size="8.8" fill="#000" text-anchor="middle" font-weight="bold" letter-spacing="0.55">**</text>
<text x="292.5" y="262" font-size="6.3" fill="#111" text-anchor="start" font-weight="normal" textLength="17" lengthAdjust="spacingAndGlyphs" >NSNS</text>
<text x="313.8" y="262" font-size="6.3" fill="#111" text-anchor="start" font-weight="normal" textLength="17" lengthAdjust="spacingAndGlyphs" >NSNS</text>
<text x="262" y="305" font-size="8.8" fill="#444" text-anchor="middle" font-weight="normal" textLength="11.6" lengthAdjust="spacingAndGlyphs" >D11</text>
<text x="383.8" y="181.2" font-size="7.7" fill="#dc0a16" text-anchor="start" font-weight="bold" textLength="20.6" lengthAdjust="spacingAndGlyphs" >shLuci</text>
<text x="383.8" y="190" font-size="7.7" fill="#0a36bc" text-anchor="start" font-weight="bold" textLength="40" lengthAdjust="spacingAndGlyphs" >shHDAC5-1</text>
<text x="383.8" y="198.2" font-size="7.7" fill="#44f40a" text-anchor="start" font-weight="bold" textLength="40" lengthAdjust="spacingAndGlyphs" >shHDAC5-2</text>
<line x1="380.8" y1="195.8" x2="380.8" y2="283.3" stroke="#000" stroke-width="1.2" />
<line x1="380.2" y1="282.8" x2="512.8" y2="282.8" stroke="#000" stroke-width="1.2" />
<line x1="377.6" y1="282.5" x2="380.8" y2="282.5" stroke="#000" stroke-width="1" />
<text x="377.0" y="285.7" font-size="9.2" fill="#000" text-anchor="end" font-weight="normal" textLength="4.4" lengthAdjust="spacingAndGlyphs" >0</text>
<line x1="377.6" y1="270" x2="380.8" y2="270" stroke="#000" stroke-width="1" />
<text x="377.0" y="273.2" font-size="9.2" fill="#000" text-anchor="end" font-weight="normal" textLength="10.6" lengthAdjust="spacingAndGlyphs" >1.0</text>
<line x1="377.6" y1="245.6" x2="380.8" y2="245.6" stroke="#000" stroke-width="1" />
<text x="377.0" y="248.79999999999998" font-size="9.2" fill="#000" text-anchor="end" font-weight="normal" textLength="10.6" lengthAdjust="spacingAndGlyphs" >2.0</text>
<line x1="377.6" y1="221.2" x2="380.8" y2="221.2" stroke="#000" stroke-width="1" />
<text x="377.0" y="224.39999999999998" font-size="9.2" fill="#000" text-anchor="end" font-weight="normal" textLength="10.6" lengthAdjust="spacingAndGlyphs" >3.0</text>
<line x1="377.6" y1="196.4" x2="380.8" y2="196.4" stroke="#000" stroke-width="1" />
<text x="377.0" y="199.6" font-size="9.2" fill="#000" text-anchor="end" font-weight="normal" textLength="10.6" lengthAdjust="spacingAndGlyphs" >4.0</text>
<text x="362.3" y="238.5" font-size="8.6" fill="#333" text-anchor="middle" font-weight="normal" textLength="88" lengthAdjust="spacingAndGlyphs" transform="rotate(-90 362.3 238.5)" >Relative mRNA expression</text>
<rect x="385.0" y="270.0" width="6.55" height="12.800000000000011" fill="#dc0a16" stroke="#000" stroke-width="0.7"/>
<line x1="394.825" y1="261.93149999999997" x2="394.825" y2="264.621" stroke="#000" stroke-width="1.1" />
<line x1="393.025" y1="261.93149999999997" x2="396.625" y2="261.93149999999997" stroke="#000" stroke-width="1.1" />
<rect x="391.55" y="264.621" width="6.55" height="18.17900000000003" fill="#0a36bc" stroke="#000" stroke-width="0.7"/>
<line x1="401.375" y1="261.198" x2="401.375" y2="263.154" stroke="#000" stroke-width="1.1" />
<line x1="399.575" y1="261.198" x2="403.175" y2="261.198" stroke="#000" stroke-width="1.1" />
<rect x="398.1" y="263.154" width="6.55" height="19.646000000000015" fill="#44f40a" stroke="#000" stroke-width="0.7"/>
<text x="395" y="292.5" font-size="8.2" fill="#000" text-anchor="middle" font-weight="normal" textLength="12.5" lengthAdjust="spacingAndGlyphs" stroke="#000" stroke-width="0.18">p53</text>
<rect x="410.7" y="270.0" width="6.55" height="12.800000000000011" fill="#dc0a16" stroke="#000" stroke-width="0.7"/>
<line x1="420.525" y1="225.99" x2="420.525" y2="230.88" stroke="#000" stroke-width="1.1" />
<line x1="418.72499999999997" y1="225.99" x2="422.325" y2="225.99" stroke="#000" stroke-width="1.1" />
<rect x="417.25" y="230.88" width="6.55" height="51.920000000000016" fill="#0a36bc" stroke="#000" stroke-width="0.7"/>
<line x1="427.075" y1="220.3665" x2="427.075" y2="223.54500000000002" stroke="#000" stroke-width="1.1" />
<line x1="425.275" y1="220.3665" x2="428.875" y2="220.3665" stroke="#000" stroke-width="1.1" />
<rect x="423.8" y="223.54500000000002" width="6.55" height="59.254999999999995" fill="#44f40a" stroke="#000" stroke-width="0.7"/>
<text x="420.7" y="292.5" font-size="8.2" fill="#000" text-anchor="middle" font-weight="normal" textLength="12.5" lengthAdjust="spacingAndGlyphs" stroke="#000" stroke-width="0.18">p21</text>
<rect x="436.3" y="270.0" width="6.55" height="12.800000000000011" fill="#dc0a16" stroke="#000" stroke-width="0.7"/>
<line x1="446.125" y1="253.1295" x2="446.125" y2="254.841" stroke="#000" stroke-width="1.1" />
<line x1="444.325" y1="253.1295" x2="447.925" y2="253.1295" stroke="#000" stroke-width="1.1" />
<rect x="442.85" y="254.841" width="6.55" height="27.959000000000003" fill="#0a36bc" stroke="#000" stroke-width="0.7"/>
<line x1="452.675" y1="252.39600000000002" x2="452.675" y2="253.6185" stroke="#000" stroke-width="1.1" />
<line x1="450.875" y1="252.39600000000002" x2="454.475" y2="252.39600000000002" stroke="#000" stroke-width="1.1" />
<rect x="449.40000000000003" y="253.6185" width="6.55" height="29.1815" fill="#44f40a" stroke="#000" stroke-width="0.7"/>
<text x="446.3" y="292.5" font-size="8.2" fill="#000" text-anchor="middle" font-weight="normal" textLength="14.3" lengthAdjust="spacingAndGlyphs" stroke="#000" stroke-width="0.18">BAX</text>
<rect x="462.3" y="270.7335" width="6.55" height="12.066500000000019" fill="#dc0a16" stroke="#000" stroke-width="0.7"/>
<line x1="472.125" y1="267.3105" x2="472.125" y2="270.0" stroke="#000" stroke-width="1.1" />
<line x1="470.325" y1="267.3105" x2="473.925" y2="267.3105" stroke="#000" stroke-width="1.1" />
<rect x="468.85" y="270.0" width="6.55" height="12.800000000000011" fill="#0a36bc" stroke="#000" stroke-width="0.7"/>
<line x1="478.675" y1="265.599" x2="478.675" y2="268.533" stroke="#000" stroke-width="1.1" />
<line x1="476.875" y1="265.599" x2="480.475" y2="265.599" stroke="#000" stroke-width="1.1" />
<rect x="475.40000000000003" y="268.533" width="6.55" height="14.266999999999996" fill="#44f40a" stroke="#000" stroke-width="0.7"/>
<text x="472.3" y="292.5" font-size="8.2" fill="#000" text-anchor="middle" font-weight="normal" textLength="25.8" lengthAdjust="spacingAndGlyphs" stroke="#000" stroke-width="0.18">MKRN1</text>
<rect x="488.0" y="270.489" width="6.55" height="12.311000000000035" fill="#dc0a16" stroke="#000" stroke-width="0.7"/>
<line x1="497.825" y1="266.8215" x2="497.825" y2="270.0" stroke="#000" stroke-width="1.1" />
<line x1="496.025" y1="266.8215" x2="499.625" y2="266.8215" stroke="#000" stroke-width="1.1" />
<rect x="494.55" y="270.0" width="6.55" height="12.800000000000011" fill="#0a36bc" stroke="#000" stroke-width="0.7"/>
<line x1="504.375" y1="266.3325" x2="504.375" y2="268.533" stroke="#000" stroke-width="1.1" />
<line x1="502.575" y1="266.3325" x2="506.175" y2="266.3325" stroke="#000" stroke-width="1.1" />
<rect x="501.1" y="268.533" width="6.55" height="14.266999999999996" fill="#44f40a" stroke="#000" stroke-width="0.7"/>
<text x="498" y="292.5" font-size="8.2" fill="#000" text-anchor="middle" font-weight="normal" textLength="22.5" lengthAdjust="spacingAndGlyphs" stroke="#000" stroke-width="0.18">MDM2</text>
<text x="388.8" y="260.8" font-size="6.3" fill="#111" text-anchor="start" font-weight="normal" textLength="7.8" lengthAdjust="spacingAndGlyphs" >NS</text>
<text x="398.3" y="258.8" font-size="6.3" fill="#111" text-anchor="start" font-weight="normal" textLength="8.2" lengthAdjust="spacingAndGlyphs" >NS</text>
<line x1="413" y1="214.5" x2="427.5" y2="214.5" stroke="#000" stroke-width="1.1" />
<text x="420.5" y="215.43" font-size="8.8" fill="#000" text-anchor="middle" font-weight="bold" letter-spacing="0.55">***</text>
<line x1="413.8" y1="223.8" x2="421.3" y2="223.8" stroke="#000" stroke-width="1.1" />
<text x="417.25" y="224.93" font-size="8.8" fill="#000" text-anchor="middle" font-weight="bold" letter-spacing="0.55">***</text>
<line x1="438.8" y1="239.5" x2="453" y2="239.5" stroke="#000" stroke-width="1.1" />
<text x="446.15" y="240.23" font-size="8.8" fill="#000" text-anchor="middle" font-weight="bold" letter-spacing="0.55">***</text>
<line x1="439.5" y1="248.8" x2="446.3" y2="248.8" stroke="#000" stroke-width="1.1" />
<text x="443.75" y="249.43" font-size="8.8" fill="#000" text-anchor="middle" font-weight="bold" letter-spacing="0.55">***</text>
<text x="466" y="265.4" font-size="6.3" fill="#111" text-anchor="start" font-weight="normal" textLength="7.8" lengthAdjust="spacingAndGlyphs" >NS</text>
<text x="474.6" y="263.6" font-size="6.3" fill="#111" text-anchor="start" font-weight="normal" textLength="8.2" lengthAdjust="spacingAndGlyphs" >NS</text>
<text x="491.8" y="264.8" font-size="6.3" fill="#111" text-anchor="start" font-weight="normal" textLength="7.8" lengthAdjust="spacingAndGlyphs" >NS</text>
<text x="500.4" y="264.8" font-size="6.3" fill="#111" text-anchor="start" font-weight="normal" textLength="8.6" lengthAdjust="spacingAndGlyphs" >NS</text>
<text x="445.6" y="306.2" font-size="8.8" fill="#555" text-anchor="middle" font-weight="normal" textLength="11.4" lengthAdjust="spacingAndGlyphs" >D11</text>
<rect x="0" y="0" width="520" height="1.3" fill="#000"/>
<rect x="0" y="0" width="1.6" height="361" fill="#000"/>
<rect x="518.3" y="0" width="1.7" height="361" fill="#000"/>
<rect x="0" y="358.8" width="520" height="2.2" fill="#000"/>
</svg>
</body></html>
